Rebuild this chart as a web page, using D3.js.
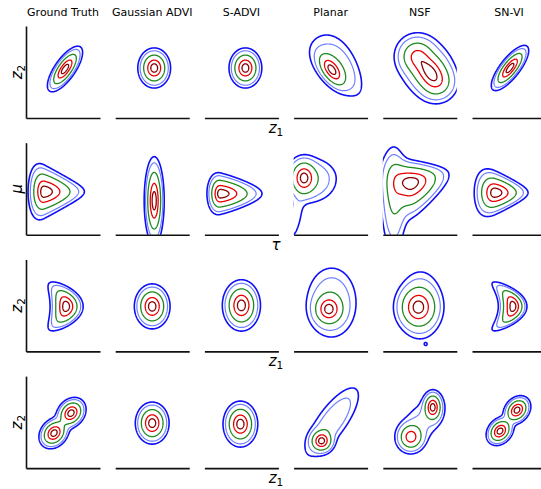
<!DOCTYPE html>
<html>
<head>
<meta charset="utf-8">
<script src="https://cdn.jsdelivr.net/npm/d3@7"></script>
<style>
  html, body { margin: 0; padding: 0; background: #fff; }
  svg { display: block; }
  text { font-family: "DejaVu Sans", sans-serif; fill: #000; }
</style>
</head>
<body>
<svg id="fig" width="541" height="489"></svg>
<script>
// Column titles (one per approximation method)
const methods = ["Ground Truth", "Gaussian ADVI", "S-ADVI", "Planar", "NSF", "SN-VI"];

// Axis labels per row: [symbol, subscript]
const rowYLabels = [["z", "2"], ["\u03bc", ""], ["z", "2"], ["z", "2"]];
const rowXLabels = [["z", "1"], ["\u03c4", ""], ["z", "1"], ["z", "1"]];

// Contour levels as fractions of each panel's peak density, outermost first
const levelFractions = [0.05, 0.11, 0.29, 0.63, 0.88];
const levelColors = ["#1010f5", "#6f80ff", "#1f8a1f", "#e80000", "#8b0000"];
const levelWidths = [1.6, 1.2, 1.3, 1.3, 1.3];

// Density components per method and row.
// Each: [mx, my, sdLeft, sdRight, sdDown, sdUp, angleDeg, bend, funnel, peak]
const groundTruth = [
  [[3.9, 4.9, 1.1, 1.1, 0.42, 0.42, 55, 0, 0, 1]],
  [[1.8, 4.3, 0.65, 1.65, 1.1, 1.1, 0, 0, 0.19, 1]],
  [[4.0, 4.5, 0.65, 0.7, 1.0, 1.0, 0, 0.22, 0, 1]],
  [[4.5, 5.5, 0.7, 0.7, 0.55, 0.55, 50, 0, 0, 1],
   [2.8, 3.5, 0.7, 0.7, 0.55, 0.55, 50, 0, 0, 1]]
];
const gaussianADVI = [
  [[3.9, 5.0, 0.67, 0.67, 0.82, 0.82, 0, 0, 0, 1]],
  [[3.9, 3.4, 0.41, 0.41, 1.8, 1.8, 0, 0, 0, 1]],
  [[3.7, 4.5, 0.73, 0.73, 0.92, 0.92, 0, 0, 0, 1]],
  [[3.7, 4.5, 0.69, 0.69, 0.86, 0.86, 0, 0, 0, 1]]
];
const sADVI = [
  [[4.1, 5.0, 0.67, 0.67, 0.82, 0.82, 0, 0, 0, 1]],
  [[1.6, 4.1, 0.55, 1.7, 0.85, 0.85, 0, 0, 0.12, 1]],
  [[3.7, 4.6, 0.78, 0.78, 1.05, 1.05, 0, 0, 0, 1]],
  [[3.6, 4.4, 0.71, 0.71, 0.94, 0.94, 0, 0, 0, 1]]
];
const planar = [
  [[3.8, 4.8, 1.0, 1.0, 0.5, 0.5, -55, 0, 0, 1],
   [4.4, 5.2, 1.95, 1.95, 1.05, 1.05, -54, 0, 0.06, 0.3]],
  [[1.0, 5.7, 0.65, 0.65, 0.9, 0.9, 0, 0, 0, 1],
   [1.7, 5.6, 1.4, 1.4, 1.25, 1.1, 0, 0, 0, 0.35],
   [0.15, 1.6, 1.6, 1.6, 0.45, 0.45, 78, 0, 0, 0.12]],
  [[3.5, 4.2, 0.75, 0.75, 0.8, 0.8, 0, 0, 0, 1],
   [3.8, 4.9, 1.35, 1.35, 1.9, 1.9, 0, 0, 0, 0.33]],
  [[2.8, 2.7, 0.55, 0.55, 0.55, 0.55, 0, 0, 0, 1],
   [3.85, 4.65, 2.3, 2.3, 0.8, 0.8, 54, 0, 0, 0.27]]
];
const nsf = [
  [[3.4, 6.2, 0.9, 0.9, 0.9, 0.9, 0, 0, 0, 1],
   [4.6, 4.8, 0.9, 0.9, 0.9, 0.9, 0, 0, 0, 1],
   [5.4, 3.6, 0.9, 0.9, 0.9, 0.9, 0, 0, 0, 0.9],
   [4.3, 5.1, 1.9, 1.9, 1.5, 1.5, -60, 0, 0, 0.3]],
  [[2.8, 5.2, 1.1, 1.6, 1.3, 1.0, 14, 0, 0.15, 1],
   [1.1, 4.6, 0.65, 0.65, 3.2, 2.1, 0, 0, 0, 0.35]],
  [[3.5, 4.4, 1.0, 1.0, 1.1, 1.1, 0, 0, 0, 1],
   [3.8, 4.7, 1.1, 1.1, 1.8, 1.8, 0, 0, 0, 0.3],
   [4.3, 0.7, 0.2, 0.2, 0.2, 0.2, 0, 0, 0, 0.05]],
  [[5.0, 6.1, 0.45, 0.45, 0.7, 0.7, 0, 0, 0, 1],
   [2.8, 3.1, 0.65, 0.65, 0.7, 0.7, 0, 0, 0, 0.8],
   [3.9, 4.6, 1.6, 1.6, 1.0, 1.0, 50, 0, 0, 0.15]]
];
const snVI = [
  [[3.8, 5.0, 1.13, 1.13, 0.4, 0.4, 52, 0, 0, 1]],
  [[2.3, 4.2, 0.85, 1.35, 0.9, 0.9, 0, 0, 0.2, 1]],
  [[4.1, 4.5, 0.6, 0.57, 1.0, 1.0, 0, 0.3, 0, 1]],
  [[4.5, 5.8, 0.65, 0.65, 0.5, 0.5, 50, 0, 0, 1],
   [2.8, 3.7, 0.65, 0.65, 0.5, 0.5, 50, 0, 0, 1]]
];
const columns = [groundTruth, gaussianADVI, sADVI, planar, nsf, snVI];

// Layout
const panelW = 74, panelH = 92;
const left0 = 26, colStep = 89.2;
const top0 = 26, rowStep = 116.7;
const xDomain = [0, 7.4], yDomain = [0, 9.2];

// Sum of skewed / bent / funnel-shaped Gaussian bumps
function density(comps, x, y) {
  let s = 0;
  for (const [mx, my, sL, sR, sD, sU, ang, bend, fun, pk] of comps) {
    const a = ang * Math.PI / 180, c = Math.cos(a), sn = Math.sin(a);
    const dx = x - mx, dy = y - my;
    let u = dx * c + dy * sn;
    const v = -dx * sn + dy * c;
    u = u + bend * v * v;
    const su = u < 0 ? sL : sR;
    const sv = (v < 0 ? sD : sU) * Math.exp(-fun * u);
    s += pk * Math.exp(-0.5 * (u * u / (su * su) + v * v / (sv * sv)));
  }
  return s;
}

const svg = d3.select("#fig");
const defs = svg.append("defs");

const step = 0.04;
const gx0 = -0.8, gx1 = 8.2, gy0 = -0.8, gy1 = 10.0;
const nx = Math.ceil((gx1 - gx0) / step), ny = Math.ceil((gy1 - gy0) / step);

// Column titles
methods.forEach((m, c) => {
  svg.append("text")
    .attr("x", left0 + c * colStep + panelW / 2)
    .attr("y", 16)
    .attr("text-anchor", "middle")
    .attr("font-size", 11)
    .text(m);
});

for (let r = 0; r < 4; r++) {
  const top = top0 + r * rowStep;
  for (let c = 0; c < 6; c++) {
    const left = left0 + c * colStep;
    const xs = d3.scaleLinear().domain(xDomain).range([left, left + panelW]);
    const ys = d3.scaleLinear().domain(yDomain).range([top + panelH, top]);
    const comps = columns[c][r];

    const values = new Float64Array(nx * ny);
    let vmax = 0;
    for (let j = 0; j < ny; j++) {
      const y = gy1 - (j + 0.5) * step;
      for (let i = 0; i < nx; i++) {
        const x = gx0 + (i + 0.5) * step;
        const d = density(comps, x, y);
        values[j * nx + i] = d;
        if (d > vmax) vmax = d;
      }
    }
    const thresholds = levelFractions.map(f => f * vmax);
    const contours = d3.contours().size([nx, ny]).thresholds(thresholds)(values);

    const proj = d3.geoTransform({
      point(px, py) {
        this.stream.point(xs(gx0 + px * step), ys(gy1 - py * step));
      }
    });
    const path = d3.geoPath(proj);

    const clipId = `clip-${r}-${c}`;
    defs.append("clipPath").attr("id", clipId)
      .append("rect")
      .attr("x", left).attr("y", top)
      .attr("width", panelW).attr("height", panelH);

    const g = svg.append("g").attr("clip-path", `url(#${clipId})`);
    g.selectAll("path")
      .data(contours)
      .join("path")
      .attr("d", path)
      .attr("fill", "none")
      .attr("stroke", (d, i) => levelColors[i])
      .attr("stroke-width", (d, i) => levelWidths[i])
      .attr("stroke-linejoin", "round");

    // Bottom spine on every panel, left spine on the first column
    const xAxis = d3.axisBottom(xs).ticks(0).tickSize(0).tickSizeOuter(0);
    const ax = svg.append("g")
      .attr("transform", `translate(0,${top + panelH})`)
      .call(xAxis);
    ax.selectAll("text").remove();
    ax.select(".domain").attr("stroke", "#111").attr("stroke-width", 1.6);

    if (c === 0) {
      const yAxis = d3.axisLeft(ys).ticks(0).tickSize(0).tickSizeOuter(0);
      const ay = svg.append("g")
        .attr("transform", `translate(${left},0)`)
        .call(yAxis);
      ay.selectAll("text").remove();
      ay.select(".domain").attr("stroke", "#111").attr("stroke-width", 1.6);
    }
  }

  // Row labels
  const [yl, ysub] = rowYLabels[r];
  const yt = svg.append("text")
    .attr("transform", `translate(22,${top + panelH / 2}) rotate(-90)`)
    .attr("text-anchor", "middle")
    .attr("font-size", 15)
    .attr("font-style", "italic");
  yt.append("tspan").text(yl);
  if (ysub) yt.append("tspan").attr("font-size", 10.5).attr("dy", 3).attr("font-style", "normal").text(ysub);

  const [xl, xsub] = rowXLabels[r];
  const xt = svg.append("text")
    .attr("x", 276)
    .attr("y", top + panelH + 15)
    .attr("text-anchor", "middle")
    .attr("font-size", 15)
    .attr("font-style", "italic");
  xt.append("tspan").text(xl);
  if (xsub) xt.append("tspan").attr("font-size", 10.5).attr("dy", 3).attr("font-style", "normal").text(xsub);
}
</script>
</body>
</html>
